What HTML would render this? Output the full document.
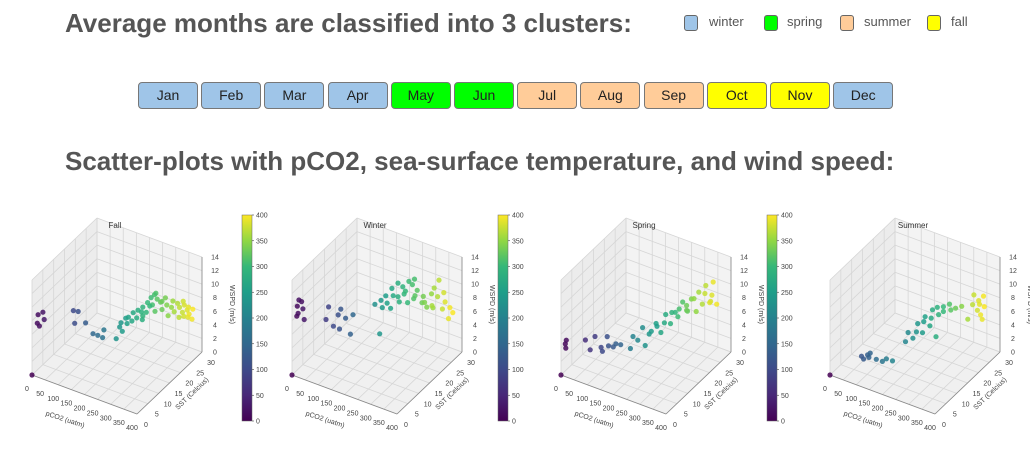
<!DOCTYPE html>
<html><head><meta charset="utf-8">
<style>
body{margin:0;width:1030px;height:456px;background:#fff;font-family:"Liberation Sans",sans-serif;position:relative;overflow:hidden}
.h{position:absolute;left:65px;font-weight:bold;font-size:26px;color:#555;margin:0;white-space:nowrap}
.lg{position:absolute;top:15px;width:12px;height:14px;border:1px solid #666;border-radius:3px}
.lt{position:absolute;top:14px;font-size:13px;color:#555}
.btn{position:absolute;top:82px;width:58px;height:25px;border:1px solid #777;border-radius:4px;font-size:14px;color:#222;text-align:center;line-height:25px}
svg text{font-family:"Liberation Sans",sans-serif}
</style></head><body>
<h1 class="h" style="top:8px">Average months are classified into 3 clusters:</h1>
<div class="lg" style="left:684px;background:#9fc5e8"></div><div class="lt" style="left:709px">winter</div>
<div class="lg" style="left:764px;background:#00ff00"></div><div class="lt" style="left:787px">spring</div>
<div class="lg" style="left:840px;background:#ffcc99"></div><div class="lt" style="left:864px">summer</div>
<div class="lg" style="left:927px;background:#ffff00"></div><div class="lt" style="left:951px">fall</div>
<div id="btns"></div>
<h1 class="h" style="top:146px">Scatter-plots with pCO2, sea-surface temperature, and wind speed:</h1>
<svg id="plots" width="1030" height="456" style="position:absolute;left:0;top:0"></svg>
<script>
const months=["Jan","Feb","Mar","Apr","May","Jun","Jul","Aug","Sep","Oct","Nov","Dec"];
const monthCluster=["winter","winter","winter","winter","spring","spring","summer","summer","summer","fall","fall","winter"];
const clusterColor={winter:"#9fc5e8",spring:"#00ff00",summer:"#ffcc99",fall:"#ffff00"};
const bc=document.getElementById('btns');
months.forEach((m,i)=>{const d=document.createElement('div');d.className='btn';


d.style.left=(138+i*63.2)+'px';d.style.background=clusterColor[monthCluster[i]];d.textContent=m;bc.appendChild(d);});

const panelTitles=["Fall","Winter","Spring","Summer"];
const fallP=[0,12,15,20,25,30,100,105,110,130,150,160,170,175,
230,235,240,245,250,255,260,265,270,275,280,285,290,295,300,305,310,315,320,325,330,335,340,345,350,355,360,365,370,372,375,378,380,382,385,388,390,392,395,398,300,310,320,330,280,290];
const fallS=[0,1,1,1,2,2,7,7,8,9,10,11,12,12,
11,12,12,12,13,13,13,14,14,15,15,16,16,17,17,18,18,19,19,20,20,21,21,21,22,22,22,23,23,23,24,24,24,24,25,25,25,25,26,26,18,19,18,20,17,16];
const fallW=[0,7.5,8.8,7.2,9,8,8.8,7,8.5,6.8,5.2,4.8,4.3,5.5,
5.3,6.8,7.5,6.3,8,7.3,8.3,7.5,8.8,7.8,9,8.5,9.3,8.3,9.8,10.3,9.3,10.8,10,9.3,8.3,9.8,8.8,7.3,8.3,9.3,7.8,8.8,6.8,8.3,7.3,9,6.8,8.5,7.5,6.5,8,7,6,7.5,9,10.5,8.5,9.5,7,8];
const winterP=[0,10,12,15,18,20,25,30,80,90,100,110,115,120,130,140,150,
225,235,240,245,250,255,260,265,270,280,285,290,295,300,305,310,315,320,330,335,340,350,355,360,365,370,375,380,385,390,395,398,300,320,340,360,280,310];
const winterS=[0,1,1,1,1,2,2,2,6,6,7,8,8,8,9,10,10,
11,12,12,12,13,13,14,14,14,15,15,16,16,17,17,18,18,19,20,20,21,22,22,22,23,23,24,24,24,25,25,26,16,18,20,21,15,19];
const winterW=[0,8.5,10,9,11,10.5,9.5,8,7.5,9.5,6.5,8,6,9,7.5,5,8,
10.3,5.8,10.8,9.8,11.3,10.3,9.3,12.3,11.3,13,10.3,12.3,11.3,9.8,13,12.3,10.3,11.3,9.3,10.3,8.5,10.3,8.3,11.3,9.8,12.3,7.8,10.3,9,6.3,8,7,11.8,10.8,9.5,9,11,12.8];
const springP=[0,8,10,12,60,70,80,95,110,100,115,125,135,145,
190,200,210,220,230,237,245,255,265,275,285,295,305,315,325,330,340,350,360,365,370,380,385,390,395,250,270,290,310,330,350,375,385];
const springS=[0,1,1,1,4,5,6,7,8,7,8,9,9,10,
9,9,10,11,11,12,12,13,14,15,16,17,17,18,19,18,19,20,20,21,22,23,23,23,24,14,15,16,17,18,19,21,22];
const springW=[0,4.4,3.8,5,4.8,3.2,5,3.3,4.8,2.8,3.5,3.2,3.8,3.5,
3.9,5.8,5.1,6.8,4.3,5.8,6.3,7.3,5.8,8.3,6.8,8.3,7.8,9.8,8.3,8.8,10.3,8.3,11.3,9.3,11.8,9.3,10.3,12.3,8.8,6.5,7,8.5,9,9.5,10.5,11,9.5];
const summerP=[0,120,128,135,140,145,160,175,190,205,
205,215,225,235,245,255,265,275,280,285,300,315,330,345,360,370,375,380,385,390,395,398,392,388,230,250,270,290,300,320];
const summerS=[0,0,0,1,1,1,2,3,3,4,
10,10,11,12,13,13,14,14,15,15,16,17,18,19,20,21,21,22,22,23,23,23,22,22,12,13,14,15,16,17];
const summerW=[0,4.5,4.2,4.6,4.3,5,4,3.6,4.2,3.8,
4.8,6.3,5.3,7.3,5.8,8.3,6.8,9.3,5.1,9.5,8.8,9.8,9.1,9.3,7.3,9.3,10.8,8.3,9.8,6.8,10.3,8.8,7.8,9.3,6,7.5,8,8.5,9.5,9];
const pTicks=[0,50,100,150,200,250,300,350,400];
const sTicks=[0,5,10,15,20,25,30];
const wTicks=[0,2,4,6,8,10,12,14];
const cbTicks=[0,50,100,150,200,250,300,350,400];

const panels=[{x:0,P:fallP,S:fallS,W:fallW},{x:260,P:winterP,S:winterS,W:winterW},{x:529,P:springP,S:springS,W:springW},{x:798,P:summerP,S:summerS,W:summerW}];
const colorbarX=[242,498,767];
const NS='http://www.w3.org/2000/svg';
const svg=document.getElementById('plots');
function el(t,a,par){const e=document.createElementNS(NS,t);for(const k in a)e.setAttribute(k,a[k]);(par||svg).appendChild(e);return e;}
const VS=[[0,[68,1,84]],[0.125,[72,40,120]],[0.25,[62,74,137]],[0.375,[49,104,142]],[0.5,[38,130,142]],[0.625,[31,158,137]],[0.75,[53,183,121]],[0.875,[144,215,67]],[1,[253,231,37]]];
function viridis(t){t=Math.max(0,Math.min(1,t));for(let i=1;i<VS.length;i++){if(t<=VS[i][0]){const a=VS[i-1],b=VS[i],f=(t-a[0])/(b[0]-a[0]);return 'rgb('+a[1].map((v,j)=>Math.round(v+(b[1][j]-v)*f)).join(',')+')';}}return 'rgb(253,231,37)';}
const H=95,WMAX=14;
function proj(ox,p,s,w){const L=[32+ox,375],dF=[105,39],dR=[65,-62];
return [L[0]+p/400*dF[0]+s/30*dR[0], L[1]+p/400*dF[1]+s/30*dR[1]-w/WMAX*H];}
function pts(a){return a.map(q=>q.join(',')).join(' ');}
panels.forEach((pn,i)=>{
 const g=el('g',{});
 const o=pn.x,P=(p,s,w)=>proj(o,p,s,w);
 el('polygon',{points:pts([P(0,0,0),P(0,30,0),P(0,30,WMAX),P(0,0,WMAX)]),fill:'#ececec'},g);
 el('polygon',{points:pts([P(0,30,0),P(400,30,0),P(400,30,WMAX),P(0,30,WMAX)]),fill:'#f3f3f3'},g);
 el('polygon',{points:pts([P(0,0,0),P(400,0,0),P(400,30,0),P(0,30,0)]),fill:'#f0f0f0'},g);
 const gl=(a,b)=>{el('line',{x1:a[0],y1:a[1],x2:b[0],y2:b[1],stroke:'#d6d6d6','stroke-width':0.8},g);};
 pTicks.forEach(p=>{gl(P(p,0,0),P(p,30,0));gl(P(p,30,0),P(p,30,WMAX));});
 sTicks.forEach(s=>{gl(P(0,s,0),P(400,s,0));gl(P(0,s,0),P(0,s,WMAX));});
 wTicks.forEach(w=>{gl(P(0,0,w),P(0,30,w));gl(P(0,30,w),P(400,30,w));});
 const ax=(a,b)=>{el('line',{x1:a[0],y1:a[1],x2:b[0],y2:b[1],stroke:'#888','stroke-width':0.8},g);};
 ax(P(0,0,0),P(400,0,0));ax(P(400,0,0),P(400,30,0));ax(P(400,30,0),P(400,30,WMAX));
 const tx=(x,y,t,extra)=>{const e=el('text',Object.assign({x:x,y:y,'font-size':7,fill:'#444','text-anchor':'middle'},extra||{}),g);e.textContent=t;return e;};
 pTicks.forEach(p=>{const q=P(p,0,0);tx(q[0]-5,q[1]+16,p);});
 sTicks.forEach(s=>{const q=P(400,s,0);tx(q[0]+9,q[1]+13,s);});
 wTicks.forEach(w=>{const q=P(400,30,w);tx(q[0]+13,q[1]+2.5,w);});
 const a1=P(200,0,0);tx(a1[0]-20,a1[1]+27,'pCO2 (uatm)',{transform:'rotate(18 '+(a1[0]-20)+' '+(a1[1]+27)+')'});
 const a2=P(400,15,0);tx(a2[0]+24,a2[1]+12,'SST (Celcius)',{transform:'rotate(-44 '+(a2[0]+24)+' '+(a2[1]+12)+')'});
 const a3=P(400,30,7);tx(a3[0]+28,a3[1],'WSPD (m/s)',{transform:'rotate(90 '+(a3[0]+28)+' '+a3[1]+')'});
 tx(o+115,228,panelTitles[i],{'font-size':8,fill:'#333'});
 pn.P.forEach((p,k)=>{const q=P(p,pn.S[k],pn.W[k]);
  const c=el('circle',{cx:q[0].toFixed(1),cy:q[1].toFixed(1),r:2.6,fill:viridis(p/400),'fill-opacity':0.85},g);
  
  });
});
const defs=el('defs',{});
const lgr=el('linearGradient',{id:'vir',x1:0,y1:1,x2:0,y2:0},defs);
VS.forEach(s=>el('stop',{offset:s[0],'stop-color':viridis(s[0])},lgr));
colorbarX.forEach((cx,i)=>{
 const g=el('g',{});
 el('rect',{x:cx,y:215,width:10,height:206,fill:'url(#vir)',stroke:'#666','stroke-width':0.5},g);
 cbTicks.forEach(v=>{const y=421-v/400*206;
  el('line',{x1:cx+10,y1:y,x2:cx+12,y2:y,stroke:'#444','stroke-width':0.6},g);
  const t=el('text',{x:cx+14,y:y+2.5,'font-size':7,fill:'#444'},g);t.textContent=v;});
});
</script>
</body></html>
